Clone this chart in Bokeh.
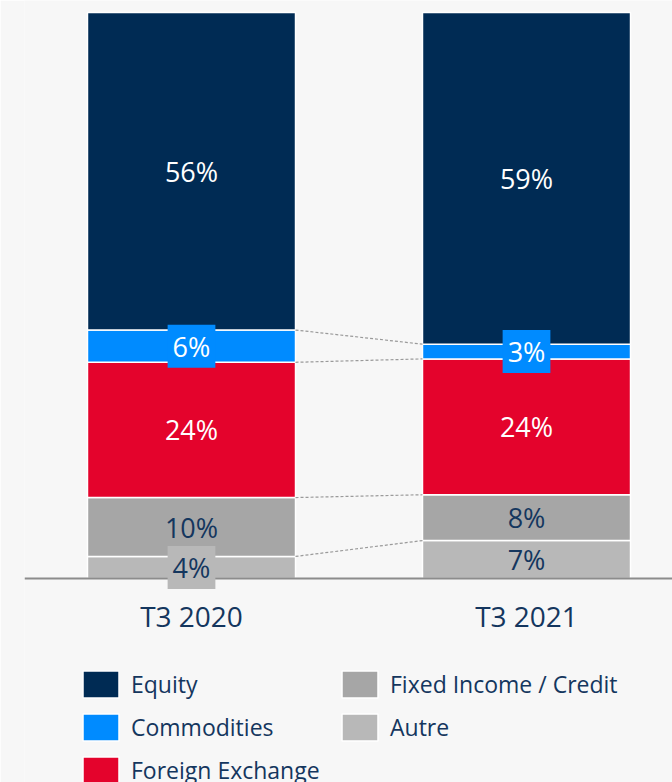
import numpy as np
from bokeh.plotting import figure
from bokeh.models import ColumnDataSource, Range1d, Legend, LegendItem, FixedTicker
from bokeh.core.properties import value
from bokeh.embed import file_html
from bokeh.resources import INLINE

categories = ["T3 2020", "T3 2021"]
series = ["Autre", "Fixed Income / Credit", "Foreign Exchange", "Commodities", "Equity"]
autre = [3.9, 6.7]
fixed_income = [10.4, 8.1]
foreign_exchange = [23.9, 24.0]
commodities = [5.7, 2.6]
equity = [56.1, 58.6]
legend_order = ["Equity", "Commodities", "Foreign Exchange", "Fixed Income / Credit", "Autre"]

colors = ["#B8B8B8", "#A6A6A6", "#E4032C", "#008BFF", "#002B54"]
text_colors = ["#14365E", "#14365E", "#FFFFFF", "#FFFFFF", "#FFFFFF"]
FONT = "Open Sans"
BG = "#F7F7F7"
NAVY = "#14365E"
BAR_W = 0.621
BOX_BELOW = 6.5

values = [autre, fixed_income, foreign_exchange, commodities, equity]
x = list(range(len(categories)))

p = figure(width=672, height=782,
           x_range=Range1d(-0.4985, 1.4358), y_range=Range1d(-36.04, 102.12),
           output_backend="svg", toolbar_location=None,
           min_border_left=24, min_border_right=0, min_border_top=0, min_border_bottom=0,
           background_fill_color=BG, border_fill_color=BG, outline_line_color=None)

data = {"x": x}
for name, vals in zip(series, values):
    data[name] = vals
src = ColumnDataSource(data)
renderers = p.vbar_stack(series, x="x", width=BAR_W, source=src,
                         fill_color=colors, line_color="white", line_width=1.5)

# cumulative boundaries
arr = np.array(values)  # shape (series, categories)
tops = np.cumsum(arr, axis=0)
bottoms = tops - arr

# connectors between bars at each internal boundary
seg = dict(x0=[], y0=[], x1=[], y1=[])
for i in range(len(series) - 1):
    seg["x0"].append(x[0] + BAR_W / 2)
    seg["x1"].append(x[1] - BAR_W / 2)
    seg["y0"].append(float(tops[i, 0]))
    seg["y1"].append(float(tops[i, 1]))
p.segment(x0="x0", y0="y0", x1="x1", y1="y1", source=ColumnDataSource(seg),
          line_color="#9A9A9A", line_width=1.2, line_dash="3 2")

plain = dict(x=[], y=[], text=[], tc=[])
boxed = dict(x=[], y=[], text=[], tc=[], bg=[])
for i in range(len(series)):
    for j in range(len(categories)):
        v = arr[i, j]
        mid = float(bottoms[i, j] + v / 2)
        t = f"{int(round(v))}%"
        if v < BOX_BELOW:
            boxed["x"].append(x[j]); boxed["y"].append(mid); boxed["text"].append(t)
            boxed["tc"].append(text_colors[i]); boxed["bg"].append(colors[i])
        else:
            plain["x"].append(x[j]); plain["y"].append(mid); plain["text"].append(t)
            plain["tc"].append(text_colors[i])

p.text(x="x", y="y", text="text", source=ColumnDataSource(plain), text_color="tc",
       text_align="center", text_baseline="middle", text_font=value(FONT),
       text_font_size="27px")
p.text(x="x", y="y", text="text", source=ColumnDataSource(boxed), text_color="tc",
       text_align="center", text_baseline="middle", text_font=value(FONT),
       text_font_size="27px", background_fill_color="bg", padding=(5, 3),
       level="overlay")

p.xgrid.visible = False
p.ygrid.visible = False
p.yaxis.visible = False
xa = p.xaxis[0]
xa.fixed_location = 0
xa.ticker = FixedTicker(ticks=x)
xa.major_label_overrides = {k: c for k, c in zip(x, categories)}
xa.axis_line_color = "#8C8C8C"
xa.axis_line_width = 2
xa.major_tick_line_color = None
xa.minor_tick_line_color = None
xa.major_label_standoff = 12
xa.major_label_text_font = FONT
xa.major_label_text_font_size = "28px"
xa.major_label_text_color = NAVY

rmap = dict(zip(series, renderers))
legend = Legend(items=[LegendItem(label=n, renderers=[rmap[n]]) for n in legend_order],
                location=(54, -5), orientation="vertical", nrows=3,
                glyph_width=45, glyph_height=34, label_standoff=8, spacing=9,
                label_width=197, padding=0, margin=0, border_line_color=None,
                background_fill_alpha=0, label_text_font=FONT,
                label_text_font_size="23px", label_text_color=NAVY)
p.add_layout(legend)

open("out.html", "w").write(file_html(p, INLINE))
